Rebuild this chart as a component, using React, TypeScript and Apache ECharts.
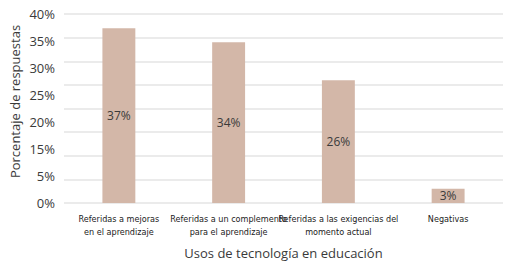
import React, { useEffect, useRef } from "react";
import * as echarts from "echarts";

const categories = [
  "Referidas a mejoras\nen el aprendizaje",
  "Referidas a un complemento\npara el aprendizaje",
  "Referidas a las exigencias del\nmomento actual",
  "Negativas",
];
const values = [37, 34, 26, 3];
const yTickLabels = ["0%", "5%", "15%", "20%", "25%", "30%", "35%", "40%"];
const xTitle = "Usos de tecnología en educación";
const yTitle = "Porcentaje de respuestas";

export default function App() {
  const ref = useRef<HTMLDivElement>(null);
  useEffect(() => {
    if (!ref.current) return;
    const chart = echarts.init(ref.current, undefined, { renderer: "svg" });
    const textColor = "#3a3a3a";
    chart.setOption({
      animation: false,
      grid: { left: 62, right: 7, top: 14, bottom: 60 },
      xAxis: {
        type: "category",
        data: categories,
        name: xTitle,
        nameLocation: "middle",
        nameGap: 43,
        nameTextStyle: { fontFamily: "Open Sans", fontSize: 13, color: textColor },
        axisLine: { show: false },
        axisTick: { show: false },
        axisLabel: {
          interval: 0,
          margin: 9,
          fontFamily: "'DejaVu Sans Condensed', 'DejaVu Sans', sans-serif",
          fontSize: 9,
          lineHeight: 13,
          color: "#222",
        },
      },
      yAxis: [
        {
          type: "value",
          min: 0,
          max: 40,
          interval: 5,
          position: "left",
          axisLabel: { show: false },
          axisLine: { show: false },
          axisTick: { show: false },
          splitLine: { lineStyle: { color: "#e4e4e4", width: 1.5 } },
          name: yTitle,
          nameLocation: "middle",
          nameGap: 43,
          nameTextStyle: {
            fontFamily: "Open Sans",
            fontSize: 13,
            color: textColor,
            padding: [0, 0, 0, 14],
          },
        },
        {
          type: "value",
          min: 0,
          max: yTickLabels.length - 1,
          interval: 1,
          position: "left",
          axisLine: { show: false },
          axisTick: { show: false },
          splitLine: { show: false },
          axisLabel: {
            margin: 9,
            fontFamily: "Open Sans",
            fontSize: 13,
            color: textColor,
            formatter: (v: number) => yTickLabels[Math.round(v)] ?? "",
          },
        },
      ],
      series: [
        {
          type: "bar",
          data: values,
          barWidth: "30%",
          yAxisIndex: 0,
          itemStyle: { color: "#d3b7a8" },
          label: {
            show: true,
            position: "inside",
            formatter: "{c}%",
            fontFamily: "Open Sans",
            fontSize: 12,
            color: textColor,
          },
        },
      ],
    });
    return () => chart.dispose();
  }, []);
  return (
    <div
      ref={ref}
      style={{ position: "fixed", left: 0, top: 0, width: 510, height: 264, background: "#fff" }}
    />
  );
}
